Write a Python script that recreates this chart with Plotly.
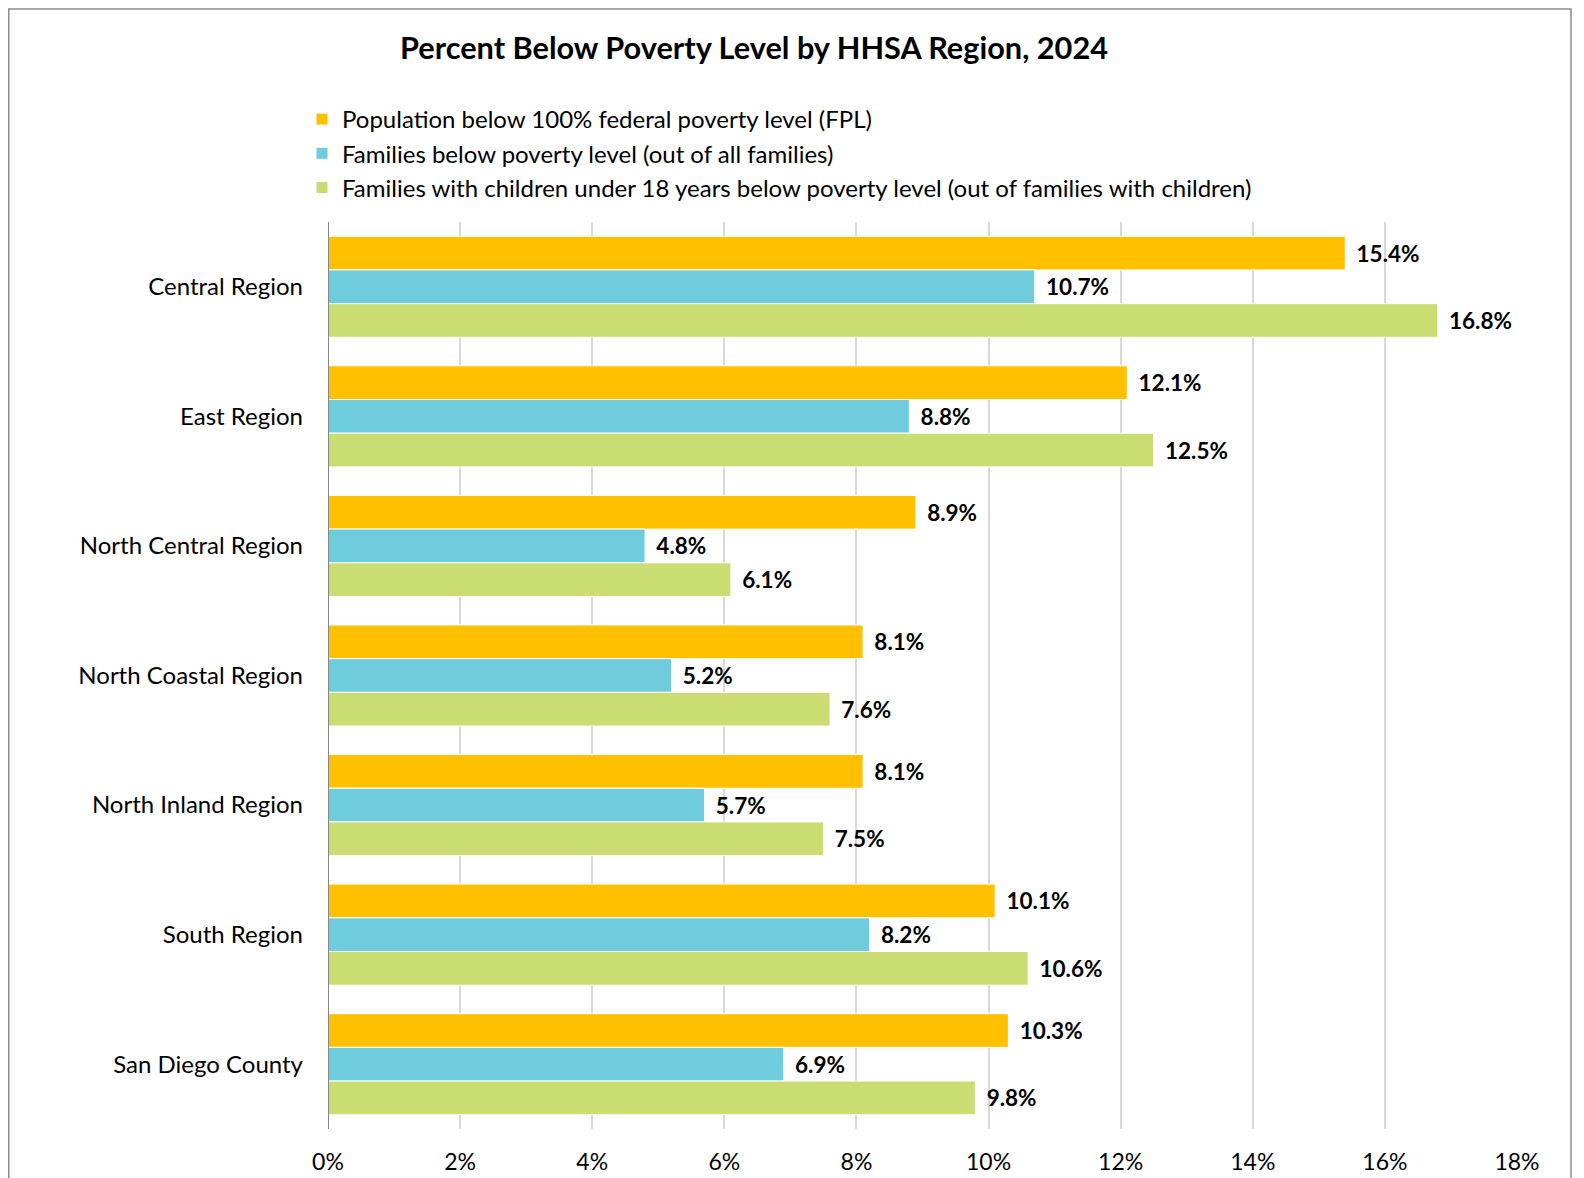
import plotly.graph_objects as go

categories = ["Central Region", "East Region", "North Central Region", "North Coastal Region",
              "North Inland Region", "South Region", "San Diego County"]
series_names = ["Population below 100% federal poverty level (FPL)",
                "Families below poverty level (out of all families)",
                "Families with children under 18 years below poverty level (out of families with children)"]
pop_fpl = [15.4, 12.1, 8.9, 8.1, 8.1, 10.1, 10.3]
families = [10.7, 8.8, 4.8, 5.2, 5.7, 8.2, 6.9]
families_children = [16.8, 12.5, 6.1, 7.6, 7.5, 10.6, 9.8]
tick_vals = [0, 2, 4, 6, 8, 10, 12, 14, 16, 18]
tick_text = ["0%", "2%", "4%", "6%", "8%", "10%", "12%", "14%", "16%", "18%"]
colors = ["#FFC000", "#6FCCDD", "#C9DD72"]

OFF = 8  # page margin of the html body
W, H = 1584 - OFF, 1178 - OFF
# plot area in page pixels, converted to figure pixels
L, R, T, B = 328 - OFF, 1517 - OFF, 222 - OFF, 1129 - OFF
FONT = "Lato"

def px_to_paper_x(page_px):
    return (page_px - OFF - L) / (R - L)

def px_to_paper_y(page_py):
    return (B - (page_py - OFF)) / (B - T)

fig = go.Figure()
for name, vals, col in zip(series_names, [pop_fpl, families, families_children], colors):
    fig.add_trace(go.Bar(
        y=categories, x=vals, name=name, orientation="h",
        marker=dict(color=col, line=dict(color="white", width=1)),
        text=["\u00a0\u2009%.1f%%" % v for v in vals],
        textposition="outside", cliponaxis=False,
        textfont=dict(family=FONT, size=22.5, color="black", weight="bold"),
    ))

fig.update_layout(
    width=W, height=H,
    margin=dict(l=L, r=W - R, t=T, b=H - B, pad=0, autoexpand=False),
    paper_bgcolor="white", plot_bgcolor="white",
    barmode="group", bargap=0.22, bargroupgap=0,
    font=dict(family=FONT, color="black"),
    title=dict(text="<b>Percent Below Poverty Level by HHSA Region, 2024</b>",
               x=px_to_paper_x(754), xref="paper", xanchor="center",
               y=1 - (48 - OFF) / H, yanchor="middle",
               font=dict(family=FONT, size=30.7, color="black")),
    legend=dict(x=px_to_paper_x(302), y=px_to_paper_y(97), xanchor="left", yanchor="top",
                font=dict(family=FONT, size=24, color="black"), traceorder="normal",
                itemwidth=30, tracegroupgap=0, bgcolor="rgba(0,0,0,0)"),
    xaxis=dict(range=[0, 18], tickvals=tick_vals, ticktext=tick_text,
               showgrid=True, gridcolor="#D9D9D9", gridwidth=2, zeroline=False,
               showline=False, tickfont=dict(family=FONT, size=23, color="black"),
               ticks="", ticklabelstandoff=17, fixedrange=True, automargin=False),
    yaxis=dict(autorange="reversed", showgrid=False, zeroline=False,
               showline=False, tickfont=dict(family=FONT, size=24, color="black"),
               ticks="", ticklabelstandoff=24, fixedrange=True, automargin=False),
    showlegend=True,
)

# vertical axis line at x = 0
fig.add_shape(type="line", xref="x", yref="paper", x0=0, x1=0, y0=0, y1=1,
              line=dict(color="#868686", width=2), layer="above")
# outer chart frame
fig.add_shape(type="rect", xref="paper", yref="paper",
              x0=px_to_paper_x(OFF + 0.75), x1=px_to_paper_x(1571),
              y0=px_to_paper_y(1200), y1=px_to_paper_y(9),
              line=dict(color="#8C8C8C", width=1.5), fillcolor="rgba(0,0,0,0)", layer="below")

fig.write_html("out.html")
